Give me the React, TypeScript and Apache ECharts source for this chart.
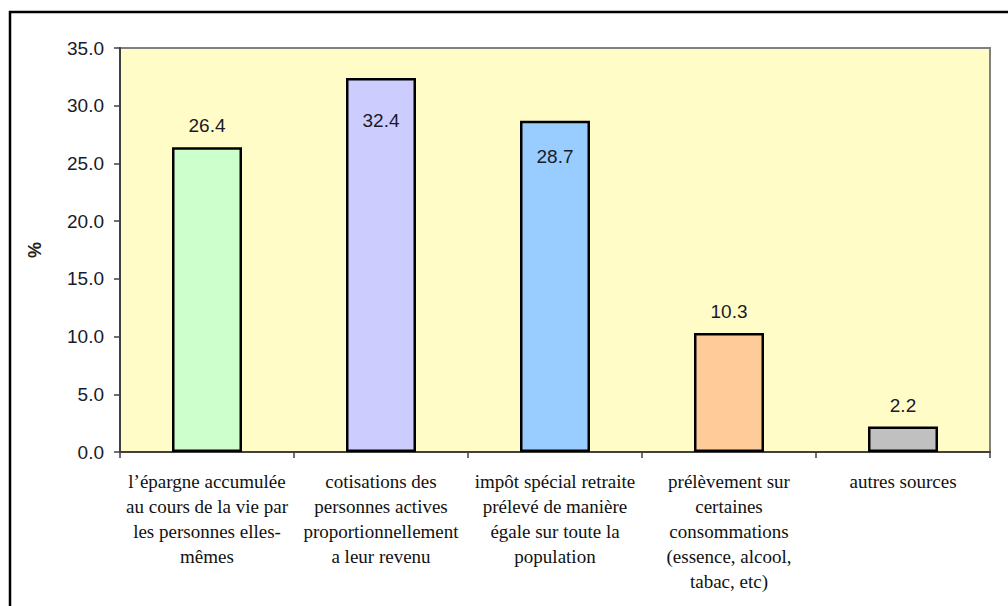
import React, { useEffect, useRef } from "react";
import * as echarts from "echarts";

const categories = [
  "l’épargne accumulée\nau cours de la vie par\nles personnes elles-\nmêmes",
  "cotisations des\npersonnes actives\nproportionnellement\na leur revenu",
  "impôt spécial retraite\nprélevé de manière\négale sur toute la\npopulation",
  "prélèvement sur\ncertaines\nconsommations\n(essence, alcool,\ntabac, etc)",
  "autres sources",
];
const values = [26.4, 32.4, 28.7, 10.3, 2.2];
const barColors = ["#CCFFCC", "#CCCCFF", "#99CCFF", "#FFCC99", "#C0C0C0"];
// label placement per bar: null = above bar, number = inside-top distance
const insideDistances: (number | null)[] = [null, 33, 26, null, null];

export default function App() {
  const ref = useRef<HTMLDivElement>(null);
  useEffect(() => {
    if (!ref.current) return;
    const chart = echarts.init(ref.current, null, { renderer: "svg" });
    const sans = "Liberation Sans, Arial, sans-serif";
    const serif = "serif";
    chart.setOption({
      animation: false,
      backgroundColor: "#ffffff",
      graphic: [
        {
          type: "rect",
          shape: { x: 10, y: 12, width: 1100, height: 700 },
          style: { fill: "none", stroke: "#000", lineWidth: 2.5 },
          silent: true,
        },
      ],
      grid: {
        left: 120,
        top: 48,
        right: 18,
        bottom: 154,
        show: true,
        backgroundColor: "#FFFCC8",
        borderColor: "#808080",
        borderWidth: 2,
        containLabel: false,
      },
      xAxis: {
        type: "category",
        data: categories,
        axisLine: { show: true, lineStyle: { color: "#404040", width: 2 } },
        axisTick: { show: true, length: 6, lineStyle: { color: "#404040", width: 1.5 } },
        axisLabel: {
          interval: 0,
          margin: 17,
          fontFamily: serif,
          fontSize: 19,
          lineHeight: 25,
          color: "#111",
        },
        splitLine: { show: false },
      },
      yAxis: {
        type: "value",
        min: 0,
        max: 35,
        interval: 5,
        name: "%",
        nameLocation: "middle",
        nameRotate: 90,
        nameGap: 76,
        nameTextStyle: { fontFamily: sans, fontSize: 18, fontWeight: "bold", color: "#222" },
        axisLine: { show: true, lineStyle: { color: "#404040", width: 2 } },
        axisTick: { show: true, length: 6, lineStyle: { color: "#404040", width: 1.5 } },
        axisLabel: {
          formatter: (v: number) => v.toFixed(1),
          fontFamily: sans,
          fontSize: 19,
          color: "#1a1a2a",
          margin: 16,
        },
        splitLine: { show: false },
      },
      series: [
        {
          type: "bar",
          barWidth: 70,
          data: values.map((v, i) => {
            const d = insideDistances[i];
            return {
              value: v,
              itemStyle: { color: barColors[i], borderColor: "#000", borderWidth: 2.5 },
              label:
                d === null
                  ? { show: true, position: "top", distance: 12 }
                  : { show: true, position: "insideTop", distance: d },
            };
          }),
          label: {
            show: true,
            formatter: (p: any) => Number(p.value).toFixed(1),
            fontFamily: sans,
            fontSize: 19,
            color: "#1a1a2a",
          },
        },
      ],
    });
    return () => chart.dispose();
  }, []);
  return (
    <div
      ref={ref}
      style={{ position: "fixed", left: 0, top: 0, width: 1008, height: 606 }}
    />
  );
}
